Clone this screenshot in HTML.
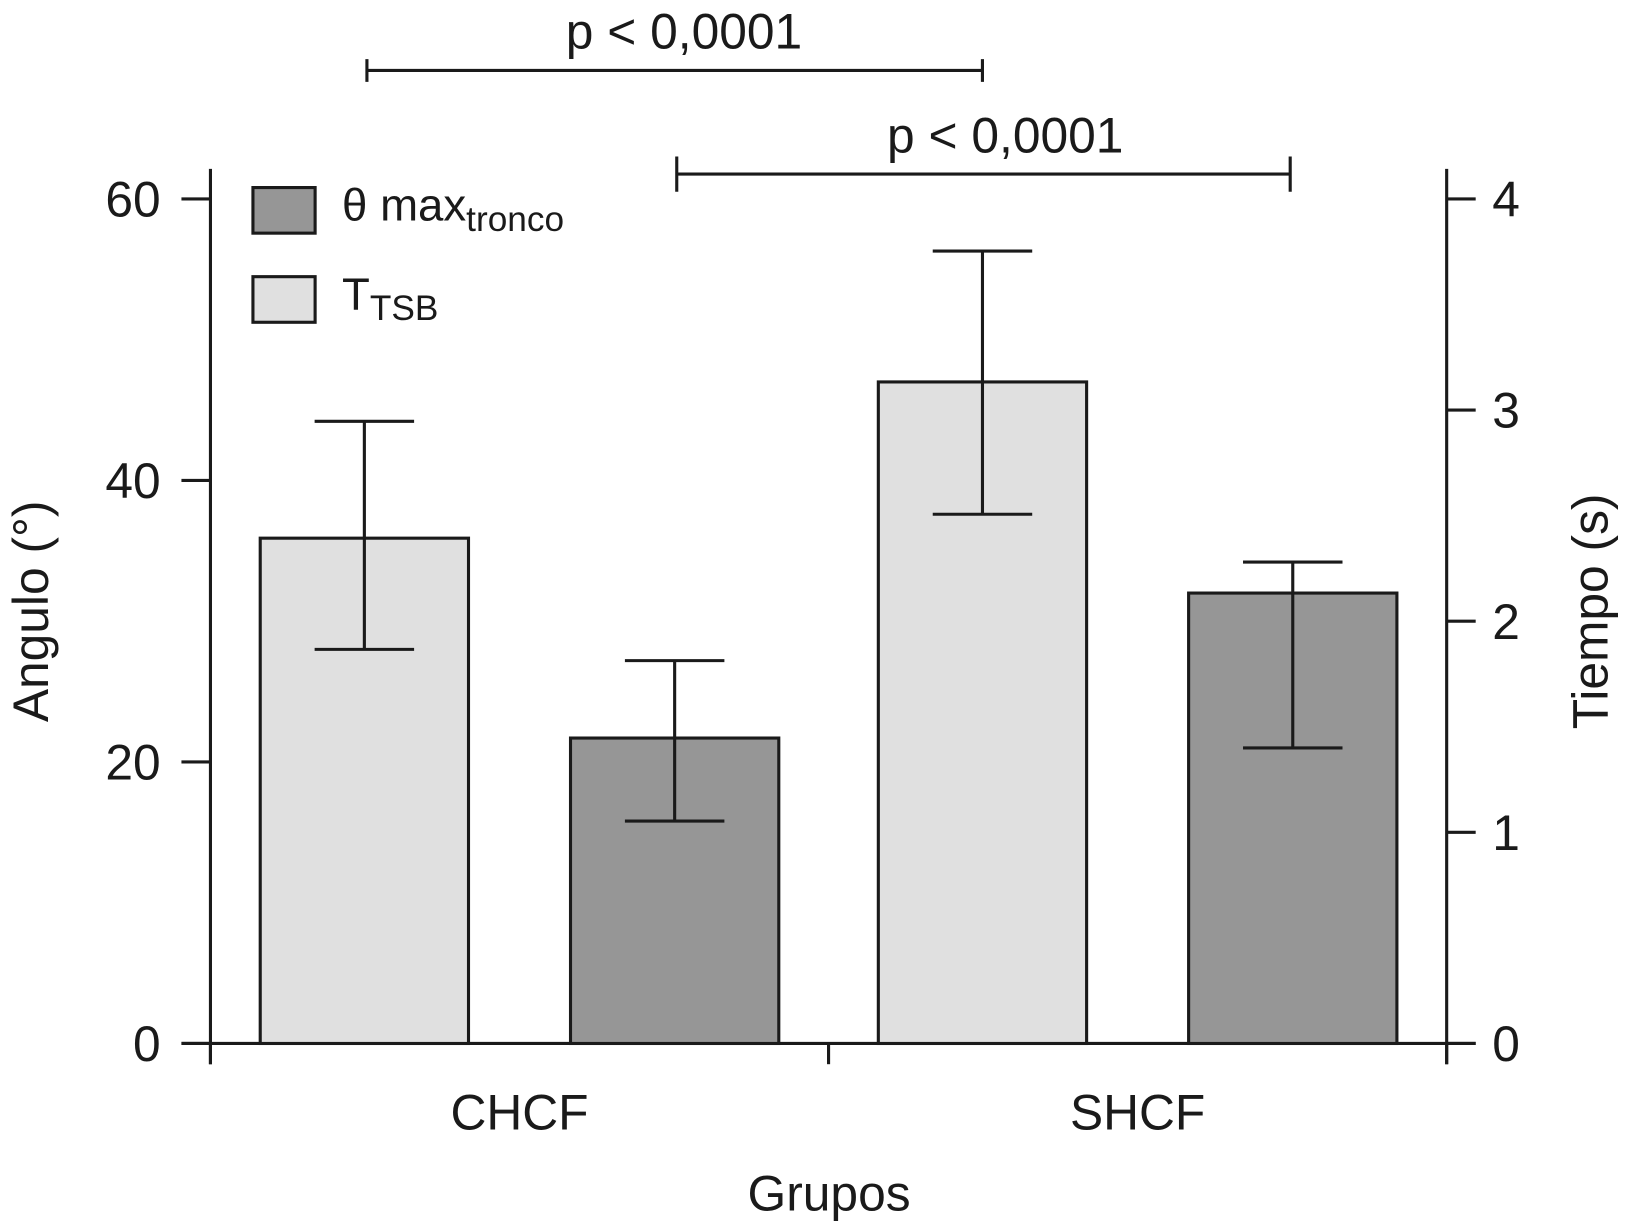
<!DOCTYPE html>
<html><head><meta charset="utf-8"><style>html,body{margin:0;padding:0;background:#fff}svg{display:block}text{font-family:"Liberation Sans",Arial,sans-serif;fill:#1a1a1a}</style></head>
<body>
<svg id="chart" width="1625" height="1230" viewBox="0 0 1568 1187" xmlns="http://www.w3.org/2000/svg"></svg>
<script>
const categories = ["CHCF", "SHCF"];
const series = ["T_TSB", "theta_max_tronco"];
const lightMeans = [35.9, 47.0];
const lightErrHi = [44.2, 56.3];
const lightErrLo = [28.0, 37.6];
const darkMeans = [21.7, 32.0];
const darkErrHi = [27.2, 34.2];
const darkErrLo = [15.8, 21.0];
const leftTicks = [0, 20, 40, 60];
const rightTicks = [0, 1, 2, 3, 4];

const NS = "http://www.w3.org/2000/svg";
const svg = document.getElementById("chart");
const X0 = 203, X1 = 1396, Y0 = 1007, Y60 = 192;
const y = v => Y0 - (v / 60) * (Y0 - Y60);
const yR = v => Y0 - (v / 4) * (Y0 - Y60);
const groupW = (X1 - X0) / categories.length;
function el(tag, attrs, parent) {
  const e = document.createElementNS(NS, tag);
  for (const k in attrs) e.setAttribute(k, attrs[k]);
  (parent || svg).appendChild(e);
  return e;
}
const ST = {stroke: "#1a1a1a", "stroke-width": 3, fill: "none"};
let a = el("line", Object.assign({x1: X0, y1: 163, x2: X0, y2: 1027}, ST));


a = el("line", Object.assign({x1: X1, y1: 163, x2: X1, y2: 1027}, ST));


a = el("line", Object.assign({x1: X0 - 28, y1: Y0, x2: X1 + 28, y2: Y0}, ST));


for (let i = 0; i <= categories.length; i++) {
  const t = el("line", Object.assign({x1: X0 + i * groupW, y1: Y0, x2: X0 + i * groupW, y2: 1027}, ST));
  
  
}
leftTicks.forEach(v => {
  const t = el("line", Object.assign({x1: X0 - 28, y1: y(v), x2: X0, y2: y(v)}, ST));
  
  
  const tx = el("text", {x: 155, y: y(v) + 17, "font-size": 48, "text-anchor": "end"});
  tx.textContent = v;
  
  
});
rightTicks.forEach(v => {
  const t = el("line", Object.assign({x1: X1, y1: yR(v), x2: X1 + 28, y2: yR(v)}, ST));
  
  
  const tx = el("text", {x: 1440, y: yR(v) + 17, "font-size": 48});
  tx.textContent = v;
  
  
});
const barW = 201;
function bar(cx, v, hi, lo, fill, name) {
  const r = el("rect", {x: cx - barW / 2, y: y(v), width: barW, height: Y0 - y(v), fill: fill, stroke: "#1a1a1a", "stroke-width": 3});
  
  
  const g = el("path", Object.assign({d: `M${cx},${y(hi)}V${y(lo)}M${cx - 48},${y(hi)}H${cx + 48}M${cx - 48},${y(lo)}H${cx + 48}`}, ST));
  
  
}
categories.forEach((c, i) => {
  const gx = X0 + i * groupW;
  bar(gx + groupW * 0.249, lightMeans[i], lightErrHi[i], lightErrLo[i], "#e0e0e0", 'bar-ttsb-' + c.toLowerCase());
  bar(gx + groupW * 0.751, darkMeans[i], darkErrHi[i], darkErrLo[i], "#969696", 'bar-theta-' + c.toLowerCase());
  const t = el("text", {x: gx + groupW * 0.5, y: 1090, "font-size": 48, "text-anchor": "middle"});
  t.textContent = c;
  
  
});
</script>
<script>
(function(){
const s = document.getElementById("chart");
s.insertAdjacentHTML("beforeend", `
<g><path d="M354,57V79M354,68H948M948,57V79" stroke="#1a1a1a" stroke-width="3" fill="none"/>
<text x="660" y="47" font-size="48" text-anchor="middle">p &lt; 0,0001</text></g>
<g><path d="M653,151V185M653,168H1245M1245,151V185" stroke="#1a1a1a" stroke-width="3" fill="none"/>
<text x="970" y="147" font-size="48" text-anchor="middle">p &lt; 0,0001</text></g>
<g>
<rect x="244" y="181" width="60" height="44" fill="#969696" stroke="#1a1a1a" stroke-width="3"/>
<text x="330" y="213" font-size="44">θ max<tspan font-size="34" dy="10">tronco</tspan></text>
<rect x="244" y="267" width="60" height="44" fill="#e0e0e0" stroke="#1a1a1a" stroke-width="3"/>
<text x="330" y="299" font-size="44">T<tspan font-size="34" dy="10">TSB</tspan></text></g>
<text transform="translate(46,590) rotate(-90)" font-size="48" text-anchor="middle">Angulo (°)</text>
<text transform="translate(1551,590) rotate(-90)" font-size="48" text-anchor="middle">Tiempo (s)</text>
<text x="800" y="1168" font-size="48" text-anchor="middle">Grupos</text>`);
})();
</script>
</body></html>
